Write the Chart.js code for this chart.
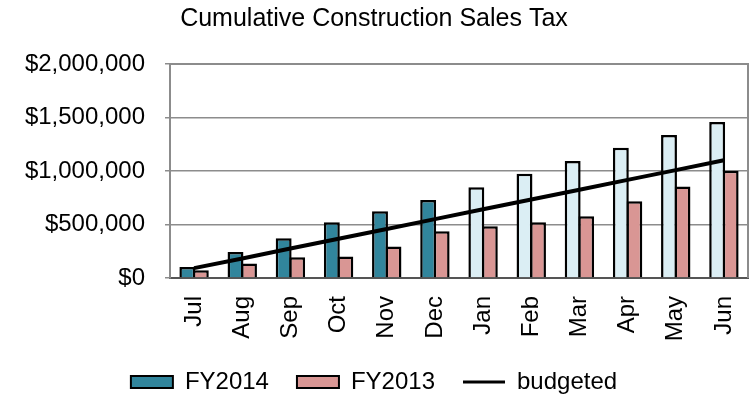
<!DOCTYPE html>
<html lang="en">

<head>
    <meta charset="UTF-8">
    <title>Cumulative Construction Sales Tax</title>
    <script src="https://cdn.jsdelivr.net/npm/chart.js"></script>
    <style>
        html, body { margin: 0; padding: 0; background: #fff; }
        #wrap { width: 749px; height: 402px; }
    </style>
</head>

<body>
    <div id="wrap"><canvas id="salesTax" width="749" height="402"></canvas></div>

    <script>
        // data
        const months = ['Jul', 'Aug', 'Sep', 'Oct', 'Nov', 'Dec', 'Jan', 'Feb', 'Mar', 'Apr', 'May', 'Jun'];
        const fy2014 = [103000, 243000, 372000, 521000, 625000, 730000, 849000, 974000, 1093000, 1217000, 1336000, 1458000];
        const fy2013 = [72000, 135000, 194000, 200000, 294000, 437000, 484000, 521000, 578000, 718000, 856000, 1002000];
        const budgeted = [92000, 183000, 275000, 367000, 458000, 550000, 642000, 733000, 825000, 917000, 1008000, 1100000];
        const yTicks = [0, 500000, 1000000, 1500000, 2000000];

        const darkTeal = '#31859c';
        const lightBlue = '#dbeef4';
        const rose = '#d99694';
        const font = 'Liberation Sans, Arial, sans-serif';

        // frame round the plot area (top and right sides)
        const frame = {
            id: 'frame',
            beforeDatasetsDraw(chart) {
                const a = chart.chartArea;
                const ctx = chart.ctx;
                ctx.save();
                ctx.strokeStyle = '#8c8c8c';
                ctx.lineWidth = 2;
                ctx.beginPath();
                ctx.moveTo(a.left, a.top);
                ctx.lineTo(a.right, a.top);
                ctx.lineTo(a.right, a.bottom);
                ctx.stroke();
                ctx.restore();
            }
        };

        new Chart(document.getElementById('salesTax'), {
            data: {
                labels: months,
                datasets: [{
                    type: 'line',
                    label: 'budgeted',
                    data: budgeted,
                    borderColor: '#000',
                    backgroundColor: '#000',
                    borderWidth: 4,
                    pointRadius: 0,
                    tension: 0,
                    order: 0
                }, {
                    type: 'bar',
                    label: 'FY2014',
                    data: fy2014,
                    backgroundColor: (c) => c.dataIndex >= 6 ? lightBlue : darkTeal,
                    borderColor: '#000',
                    borderWidth: 2.5,
                    order: 1
                }, {
                    type: 'bar',
                    label: 'FY2013',
                    data: fy2013,
                    backgroundColor: rose,
                    borderColor: '#000',
                    borderWidth: 2.5,
                    order: 2
                }]
            },
            options: {
                responsive: false,
                animation: false,
                layout: { padding: { left: 0, right: 1, top: 4, bottom: -2 } },
                datasets: {
                    bar: { categoryPercentage: 0.56, barPercentage: 1.18 }
                },
                plugins: {
                    title: {
                        display: true,
                        text: 'Cumulative Construction Sales Tax',
                        color: '#000',
                        font: { family: font, size: 25, weight: 'normal' },
                        padding: { top: 0, bottom: 30 }
                    },
                    legend: {
                        position: 'bottom',
                        padding: 2,
                        labels: {
                            color: '#000',
                            font: { family: font, size: 24 },
                            usePointStyle: true,
                            pointStyleWidth: 42,
                            boxHeight: 12,
                            padding: 28,
                            sort: (a, b) => (a.datasetIndex === 0 ? 9 : a.datasetIndex) - (b.datasetIndex === 0 ? 9 : b.datasetIndex),
                            generateLabels: (chart) => Chart.defaults.plugins.legend.labels.generateLabels(chart).map(item => {
                                if (item.datasetIndex === 0) {
                                    item.pointStyle = 'line';
                                    item.lineWidth = 3;
                                } else {
                                    item.pointStyle = 'rect';
                                    item.lineWidth = 2;
                                }
                                return item;
                            })
                        }
                    },
                    tooltip: { enabled: false }
                },
                scales: {
                    x: {
                        grid: { display: false },
                        border: { color: '#555', width: 2 },
                        ticks: {
                            color: '#000',
                            font: { family: font, size: 24 },
                            minRotation: 90,
                            maxRotation: 90,
                            padding: 10
                        },
                        afterFit: (s) => { s.height = 64; s.paddingLeft = 0; s.paddingRight = 0; }
                    },
                    y: {
                        min: 0,
                        max: 2000000,
                        afterBuildTicks: (s) => { s.ticks = yTicks.map(v => ({ value: v })); },
                        grid: { color: '#8c8c8c', lineWidth: 1.5, tickLength: 5, drawTicks: true },
                        border: { color: '#8c8c8c', width: 2 },
                        ticks: {
                            color: '#000',
                            font: { family: font, size: 24 },
                            padding: 20,
                            callback: (v) => '$' + Number(v).toLocaleString('en-US')
                        },
                        afterFit: (s) => { s.width = 170; }
                    }
                }
            },
            plugins: [frame]
        });
    </script>
</body>

</html>
